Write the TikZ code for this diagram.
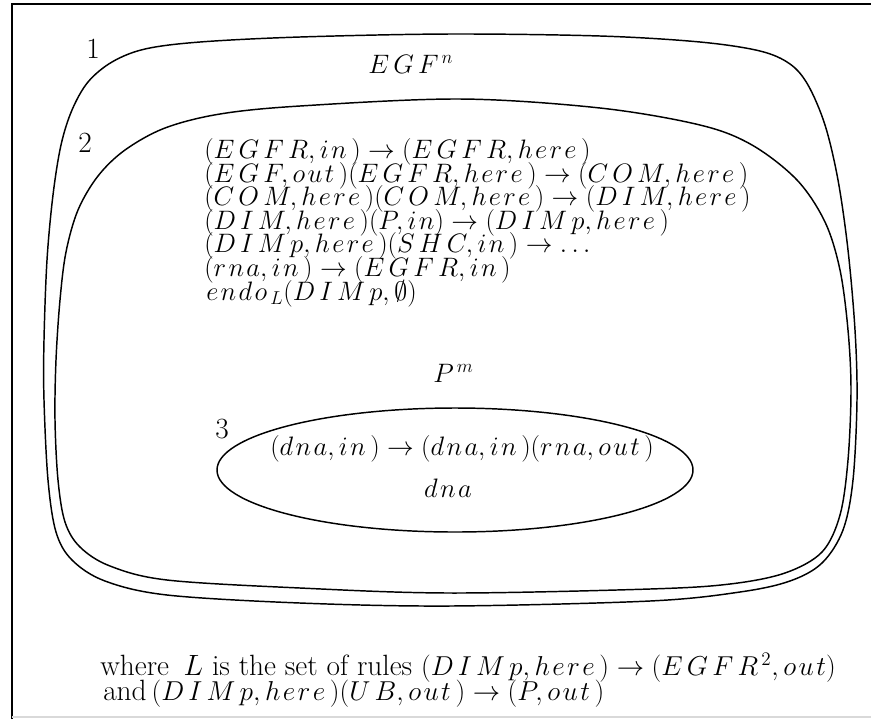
\documentclass[tikz,border=0pt]{standalone}
\usepackage{fix-cm}
\makeatletter
\def\lspend{}
\def\lsp#1#2{#1\ifx#2\lspend\expandafter\@gobble\else
  \ifnum\uccode`#1=`#1\mkern2.8mu\else\mkern1.6mu\fi
  \expandafter\@firstofone\fi{\lsp#2}}
\newcommand\w[1]{\lsp#1\lspend}
\makeatother
\newcommand\pr[2]{(\w{#1},\w{#2}\,)}
\newcommand\mfont{\fontsize{20}{18}\selectfont}
\newcommand\ffont{\fontsize{20.5}{18}\selectfont}
\newcommand\tfont{\fontsize{22}{18}\selectfont}
\begin{document}
\begin{tikzpicture}[x=0.75pt,y=-0.75pt,
  txt/.style={font=\mfont, inner sep=0pt},
  ruleline/.style={txt, anchor=base west},
  numlabel/.style={font=\tfont, inner sep=0pt, anchor=base},
  wall/.style={line width=1.1pt, black},
  frame/.style={line width=1.6pt, black}]
\useasboundingbox (0,0) rectangle (871,719);
% frame
\draw[frame] (12,719) -- (12,4) -- (871,4);
\draw[line width=2pt, black!15] (12,717) -- (871,717);
% membrane 1 (outer)
\draw[wall] plot[smooth cycle, tension=0.55] coordinates {
 (200,42) (300,37) (450,34) (600,36) (700,42) (760,51) (790,64) (808,85)
 (825,125) (838,180) (848,250) (855,330) (857,400) (853,480) (843,530)
 (822,563) (790,581) (740,592) (650,601) (450,606) (300,603) (167,595)
 (105,581) (72,560) (56,532) (48,480) (44,400) (44,340) (47,260) (53,195)
 (61,145) (72,110) (88,82) (112,62) (145,49)};
% membrane 2 (inner)
\draw[wall] plot[smooth cycle, tension=0.55] coordinates {
 (220,114) (300,106) (460,99) (600,108) (700,125) (752,145) (797,180)
 (825,222) (840,270) (848,330) (851,390) (848,460) (840,515) (822,552)
 (785,573) (730,584) (650,589) (450,593) (300,588) (167,580) (110,566)
 (80,547) (65,522) (58,480) (55,420) (56,360) (60,300) (66,252) (78,210)
 (98,176) (125,150) (165,128)};
% membrane 3
\draw[wall] (455,470) ellipse [x radius=238, y radius=62];
% labels
\node[numlabel] (n1) at (93,58) {1};
\node[numlabel] (n2) at (85,152) {2};
\node[numlabel] (n3) at (222,438) {3};
% contents of membrane 1
\node[ruleline] (egf) at (368,73) {$\w{EGF}^{\,n}$};
% rules of membrane 2
\node[ruleline] (r1) at (204,158) {$\pr{EGFR}{in}\rightarrow\pr{EGFR}{here}$};
\node[ruleline] (r2) at (204,182) {$\pr{EGF}{out}\pr{EGFR}{here}\rightarrow\pr{COM}{here}$};
\node[ruleline] (r3) at (204,205) {$\pr{COM}{here}\pr{COM}{here}\rightarrow\pr{DIM}{here}$};
\node[ruleline] (r4) at (204,229) {$\pr{DIM}{here}(P,\w{in})\rightarrow\pr{DIMp}{here}$};
\node[ruleline] (r5) at (204,252) {$\pr{DIMp}{here}\pr{SHC}{in}\rightarrow\ldots$};
\node[ruleline] (r6) at (204,276) {$\pr{rna}{in}\rightarrow\pr{EGFR}{in}$};
\node[ruleline] (r7) at (206,300) {$\w{endo}_{\,L}(\w{DIMp},\emptyset)$};
\node[ruleline] (pm) at (433,382) {$P^{\,m}$};
% membrane 3
\node[ruleline] (r8) at (270,455) {$\pr{dna}{in}\rightarrow\pr{dna}{in}\pr{rna}{out}$};
\node[txt, anchor=base] (dna) at (448,497) {$\w{dna}$};
% footnote
\node[ruleline] (f1) at (100,675) {\tfont where\enspace$L$ is the set of rules \ffont$\pr{DIMp}{here}\rightarrow(\w{EGFR}^{\,2},\w{out})$};
\node[ruleline] (f2) at (103,700) {\tfont and\,\ffont$\pr{DIMp}{here}\pr{UB}{out}\rightarrow\pr{P}{out}$};
\end{tikzpicture}
\end{document}
